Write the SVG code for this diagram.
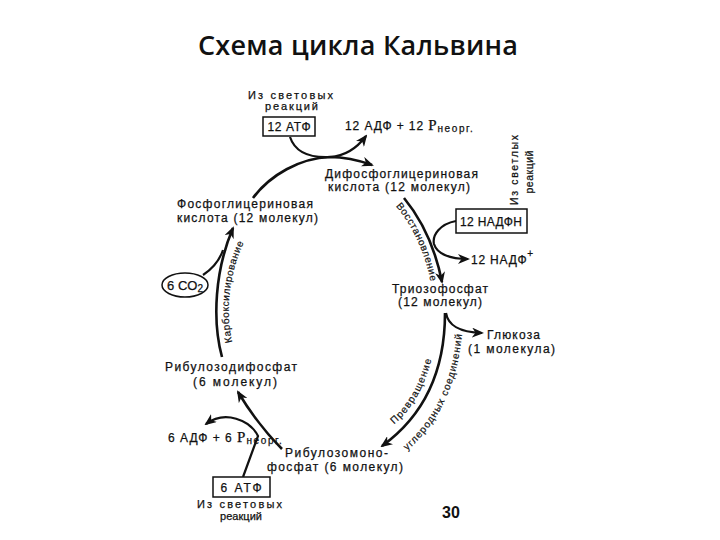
<svg xmlns="http://www.w3.org/2000/svg" width="720" height="540" viewBox="0 0 720 540">
<style>
.t{font-family:"Liberation Sans","DejaVu Sans",sans-serif;font-size:12px;fill:#111;stroke:#111;stroke-width:0.25;}
.s{font-size:10.5px;}
.m{font-size:11px;}
.sub{font-size:10px;}
.pp{font-family:"Liberation Serif",serif;font-size:15px;}
.lbl{font-family:"Liberation Sans","DejaVu Sans",sans-serif;font-size:10px;fill:#111;stroke:#111;stroke-width:0.2;}
.box{fill:#fff;stroke:#111;stroke-width:1.5;}
.main{fill:none;stroke:#111;stroke-width:2.6;}
.side{fill:none;stroke:#111;stroke-width:2.2;}
</style>
<defs>
<marker id="ah" viewBox="0 0 12 10" refX="10" refY="5" markerWidth="12" markerHeight="10" markerUnits="userSpaceOnUse" orient="auto">
<path d="M0,0 L12,5 L0,10 L3.5,5 z" fill="#111"/>
</marker>
<path id="pRed" d="M394,204 Q422,236 431,284"/>
<path id="pCarb" d="M233,345 C225,315 228,275 245,240"/>
<path id="pPrev" d="M388,429 C408,415 426,389 433,352"/>
<path id="pUgl" d="M396,460 C430,434 460,394 463,320"/>
</defs>
<rect width="720" height="540" fill="#fff"/>

<text x="358" y="55" text-anchor="middle" style="font-family:'Open Sans','Noto Sans',sans-serif;font-size:27px;font-weight:600;fill:#111;" textLength="320">Схема цикла Кальвина</text>

<g id="connectors">
<path class="main" d="M253,198 C270,175 300,158 330,157 C345,157 358,160 372,165" marker-end="url(#ah)"/>
<path class="side" d="M290,137 C295,152 310,158 330,157 C345,156 357,148 366,136" marker-end="url(#ah)"/>
<path class="main" d="M404,198 Q432,232 442,282" marker-end="url(#ah)"/>
<path class="side" d="M456,221 C440,224 432,235 434,244 C437,254 450,259 468,259" marker-end="url(#ah)"/>
<path class="side" d="M446,313 C448,325 458,332 482,333" marker-end="url(#ah)"/>
<path class="main" d="M445,313 C445,370 425,415 382,446" marker-end="url(#ah)"/>
<path class="main" d="M282,449 C265,432 250,412 238,392" marker-end="url(#ah)"/>
<path class="side" d="M243,477 L258,436 C250,420 225,410 206,424" marker-end="url(#ah)"/>
<path class="main" d="M222,357 C212,320 215,270 233,228" marker-end="url(#ah)"/>
<path class="side" d="M203,275 C212,269 219,262 223,250"/>
</g>

<g id="labels">
<text class="lbl"><textPath href="#pRed" startOffset="50%" text-anchor="middle" textLength="84">Восстановление</textPath></text>
<text class="lbl"><textPath href="#pCarb" startOffset="50%" text-anchor="middle" textLength="102">Карбоксилирование</textPath></text>
<text class="lbl"><textPath href="#pPrev" startOffset="50%" text-anchor="middle" textLength="76">Превращение</textPath></text>
<text class="lbl"><textPath href="#pUgl" startOffset="50%" text-anchor="middle" textLength="132">углеродных соединений</textPath></text>
</g>

<g id="atp-top">
<text class="t m" x="248" y="99" textLength="85">Из световых</text>
<text class="t m" x="265" y="110" textLength="53">реакций</text>
<rect class="box" x="263" y="117" width="52" height="19"/>
<text class="t" x="289" y="131" text-anchor="middle" textLength="43">12 АТФ</text>
</g>

<g id="adp-top">
<text class="t" x="345" y="130" style="letter-spacing:0.9px;">12 АДФ + 12 <tspan class="pp">P</tspan><tspan class="sub" dy="2" style="letter-spacing:1.6px;">неорг.</tspan></text>
</g>

<g id="dpga">
<text class="t" x="325" y="178" textLength="153">Дифосфоглицериновая</text>
<text class="t" x="328" y="191" textLength="142">кислота (12 молекул)</text>
</g>

<g id="light-right">
<text class="t s" transform="translate(518,170) rotate(-90)" text-anchor="middle" textLength="70">Из светлых</text>
<text class="t s" transform="translate(533,172) rotate(-90)" text-anchor="middle" textLength="43">реакций</text>
</g>

<g id="nadph">
<rect class="box" x="456" y="209" width="71" height="24"/>
<text class="t" x="491" y="226" text-anchor="middle" textLength="62">12 НАДФН</text>
</g>

<g id="nadp">
<text class="t" x="471" y="264" style="letter-spacing:0.8px;">12 НАДФ<tspan class="sub" dy="-7">+</tspan></text>
</g>

<g id="pga">
<text class="t" x="177" y="208" textLength="136">Фосфоглицериновая</text>
<text class="t" x="177" y="222" textLength="141">кислота (12 молекул)</text>
</g>

<g id="co2">
<ellipse cx="185" cy="285" rx="23" ry="12" fill="#fff" stroke="#111" stroke-width="1.5"/>
<text class="t" x="185" y="290" text-anchor="middle" style="font-size:13px;">6 CO<tspan class="sub" dy="2">2</tspan></text>
</g>

<g id="triose">
<text class="t" x="392" y="293" textLength="96">Триозофосфат</text>
<text class="t" x="398" y="306" textLength="84">(12 молекул)</text>
</g>

<g id="glucose">
<text class="t" x="487" y="339" textLength="53">Глюкоза</text>
<text class="t" x="468" y="353" textLength="87">(1 молекула)</text>
</g>

<g id="rudp">
<text class="t" x="165" y="371" textLength="132">Рибулозодифосфат</text>
<text class="t" x="193" y="386" textLength="84">(6 молекул)</text>
</g>

<g id="adp-bottom">
<text class="t" x="168" y="442" style="letter-spacing:1px;">6 АДФ + 6 <tspan class="pp">P</tspan><tspan class="sub" dy="2" style="letter-spacing:1.6px;">неорг.</tspan></text>
</g>

<g id="rump">
<text class="t" x="285" y="457" textLength="103">Рибулозомоно-</text>
<text class="t" x="267" y="471" textLength="136">фосфат (6 молекул)</text>
</g>

<g id="atp-bottom">
<rect class="box" x="213" y="477" width="57" height="20"/>
<text class="t" x="241" y="492" text-anchor="middle" textLength="41">6 АТФ</text>
<text class="t m" x="197" y="508" textLength="85">Из световых</text>
<text class="t m" x="220" y="520" textLength="42">реакций</text>
</g>

<text x="451" y="518" text-anchor="middle" style="font-family:'Liberation Sans',sans-serif;font-size:16px;font-weight:bold;fill:#111;">30</text>
</svg>
